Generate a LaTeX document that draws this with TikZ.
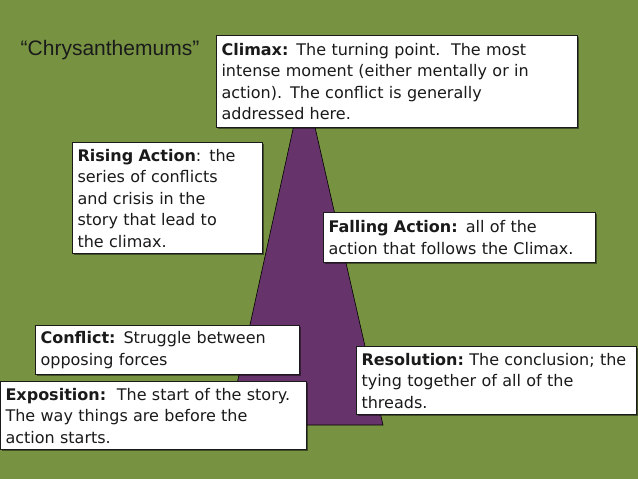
\documentclass[tikz,border=0pt]{standalone}
\usepackage{fontspec}
\setmainfont{DejaVu Sans}
\newfontfamily\titlefont{Liberation Sans}
\usepackage{xcolor}
\usepackage{tikz}
\usetikzlibrary{shadows}
\definecolor{PlotGreen}{HTML}{779342}
\definecolor{PlotPurple}{HTML}{66336A}
\definecolor{PlotInk}{HTML}{1A1A1A}
\newcommand{\panelfont}{\fontsize{16}{21.5}\selectfont}

\begin{document}
\begin{tikzpicture}[
  x=1pt, y=-1pt,
  panel/.style={draw=PlotInk, line width=1.1pt, fill=white, anchor=north west,
    align=left, inner xsep=5pt, inner ysep=2pt, font=\panelfont, text=PlotInk,
    drop shadow={shadow xshift=1.5pt, shadow yshift=-1.5pt, fill=black, opacity=.45}},
  peak/.style={fill=PlotPurple, draw=black, line width=0.6pt}
]
\fill[PlotGreen] (0,0) rectangle (638,479);
\useasboundingbox (0,0) rectangle (638,479);

% the arc of the plot
\coordinate (apex) at (304,79);
\coordinate (baseL) at (228,425);
\coordinate (baseR) at (383,425);
\draw[peak] (baseL) -- (apex) -- (baseR) -- cycle;

\node[font=\titlefont\fontsize{21}{24}\selectfont, text=PlotInk] (title) at (110,50) {“Chrysanthemums”};

\node[panel, text width=351pt, minimum height=92pt] (climax) at (216,35)
  {\textbf{Climax:} The turning point.\ \ The most\\intense moment (either mentally or in\\action). The conflict is generally\\addressed here.};
\node[panel, text width=180pt, minimum height=111pt] (rising) at (72,142)
  {\textbf{Rising Action}: the\\series of conflicts\\and crisis in the\\story that lead to\\the climax.};
\node[panel, text width=262pt, minimum height=50pt] (falling) at (323,212)
  {\textbf{Falling Action:} all of the\\action that follows the Climax.};
\node[panel, text width=254pt, minimum height=49pt] (conflict) at (35,325)
  {\textbf{Conflict:} Struggle between\\opposing forces};
\node[panel, text width=270pt, minimum height=68pt] (resolution) at (356,346)
  {\textbf{Resolution:}\ The conclusion; the\\tying together of all of the\\threads.};
\node[panel, text width=296pt, minimum height=68pt] (exposition) at (0,381)
  {\textbf{Exposition:}\ \ The start of the story.\\The way things are before the\\action starts.};
\end{tikzpicture}
\end{document}
